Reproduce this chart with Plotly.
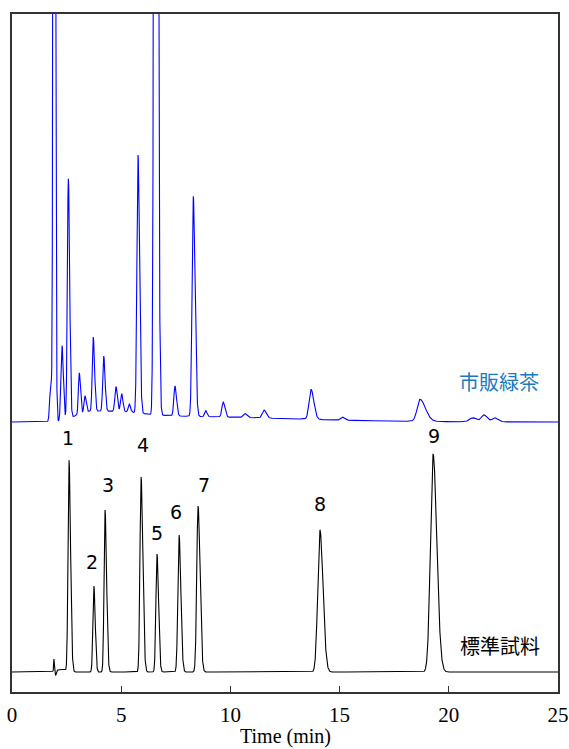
import numpy as np
import plotly.graph_objects as go

# ---- data ----
# standard sample (black): retention time (min), height, left width, right width
std_t  = [1.92, 1.99, 2.25, 2.61, 3.75, 4.26, 5.91, 6.64, 7.65, 8.52, 14.10, 19.28]
std_h  = [12,   -5,   2.5,  211,  86,   162,  195,  118,  137,  166,  142,   218]
std_sl = [0.015, 0.02, 0.25, 0.045, 0.045, 0.045, 0.05, 0.05, 0.055, 0.06, 0.10, 0.12]
std_sr = [0.02, 0.03, 0.25, 0.07, 0.06, 0.07, 0.08, 0.07, 0.08, 0.09, 0.14, 0.17]
std_base = 20

# commercial green tea (blue)
tea_t  = [1.78, 1.92, 2.29, 2.58, 3.08, 3.34, 3.72, 4.20, 4.76, 5.02, 5.37, 5.77, 6.57,
          7.46, 8.30, 8.87, 9.67, 10.67, 11.54, 13.69, 15.14, 18.68, 21.1, 21.6, 22.1,
          3.5, 6.0]
tea_h  = [40, 1500, 75, 240, 41, 16, 74, 55, 25, 18, 8, 258, 2200,
          30, 220, 6, 15, 4, 8, 30, 3, 22, 4, 7, 4,
          10, 6]
tea_sl = [0.05, 0.035, 0.05, 0.045, 0.04, 0.04, 0.045, 0.045, 0.05, 0.05, 0.05, 0.05, 0.055,
          0.05, 0.055, 0.05, 0.06, 0.08, 0.08, 0.09, 0.08, 0.13, 0.15, 0.12, 0.12,
          0.6, 1.2]
tea_sr = [0.05, 0.05, 0.06, 0.06, 0.05, 0.05, 0.06, 0.06, 0.06, 0.06, 0.06, 0.07, 0.08,
          0.07, 0.08, 0.06, 0.08, 0.1, 0.1, 0.13, 0.1, 0.25, 0.15, 0.15, 0.15,
          1.5, 6.0]
tea_base = 270

peak_labels = ["1", "2", "3", "4", "5", "6", "7", "8", "9"]
label_t = [2.56, 3.66, 4.40, 6.02, 6.64, 7.51, 8.79, 14.10, 19.32]
label_y = [254, 130, 207, 247, 159, 180, 207, 188, 256]

x_ticks = [0, 5, 10, 15, 20, 25]

# ---- build signals ----
t = np.arange(0, 25.0001, 0.004)

def trace(base, ts, hs, sls, srs):
    y = np.full_like(t, float(base))
    for c, h, sl, sr in zip(ts, hs, sls, srs):
        s = np.where(t < c, sl, sr)
        y += h * np.exp(-0.5 * ((t - c) / s) ** 2)
    return y

y_std = trace(std_base, std_t, std_h, std_sl, std_sr)
y_tea = trace(tea_base, tea_t, tea_h, tea_sl, tea_sr)

fig = go.Figure()
fig.add_trace(go.Scatter(x=t, y=y_tea, mode="lines", line=dict(color="#0000ff", width=1.1),
                         showlegend=False, hoverinfo="skip"))
fig.add_trace(go.Scatter(x=t, y=y_std, mode="lines", line=dict(color="#000000", width=1.1),
                         showlegend=False, hoverinfo="skip"))

for lab, lx, ly in zip(peak_labels, label_t, label_y):
    fig.add_annotation(x=lx, y=ly, text=lab, showarrow=False,
                       font=dict(family="DejaVu Sans", size=19, color="#000"))

fig.add_annotation(x=22.3, y=311, text="市販緑茶", showarrow=False,
                   font=dict(family="Noto Sans CJK JP", size=20, color="#1a7ac0"))
fig.add_annotation(x=22.35, y=47, text="標準試料", showarrow=False,
                   font=dict(family="Noto Sans CJK JP", size=20, color="#000"))
# axis title
fig.add_annotation(x=0.5, xref="paper", y=-0.0649, yref="paper", yanchor="middle",
                   text="Time (min)", showarrow=False,
                   font=dict(family="Liberation Serif", size=20, color="#000"))

fig.update_layout(
    width=569, height=749,
    margin=dict(l=12, r=11, t=14, b=57, autoexpand=False),
    paper_bgcolor="white", plot_bgcolor="white",
    xaxis=dict(range=[0, 25], tickvals=x_ticks, ticks="inside", ticklen=6,
               tickcolor="#333", tickwidth=1.2, automargin=False,
               ticklabeloverflow="allow", ticklabelstandoff=3,
               showline=True, linecolor="#333", linewidth=1.5, mirror=True,
               showgrid=False, zeroline=False,
               tickfont=dict(family="Liberation Serif", size=21, color="#000")),
    yaxis=dict(range=[0, 678], showticklabels=False, ticks="", automargin=False,
               showline=True, linecolor="#333", linewidth=1.5, mirror=True,
               showgrid=False, zeroline=False),
)

fig.write_html("out.html", config={"displayModeBar": False},
               post_script="document.body.style.margin='0';document.body.style.overflow='hidden';")
